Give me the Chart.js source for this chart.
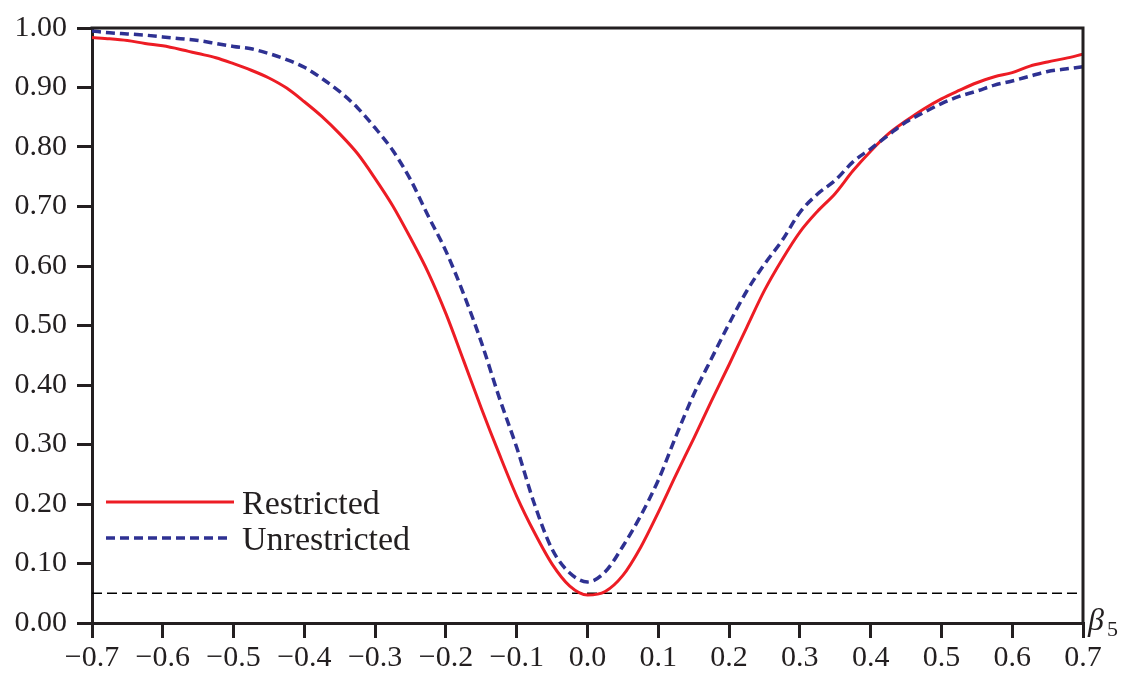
<!DOCTYPE html>
<html>
<head>
<meta charset="utf-8">
<script src="https://cdn.jsdelivr.net/npm/chart.js@4.4.1/dist/chart.umd.min.js"></script>
<style>
html,body{margin:0;padding:0;background:#fff;}
#wrap{width:1125px;height:675px;position:relative;}
canvas{display:block;}
</style>
</head>
<body>
<div id="wrap"><canvas id="c" width="1125" height="675"></canvas></div>
<script>
// ---- data ----
const beta = [-0.700,-0.675,-0.650,-0.625,-0.600,-0.575,-0.550,-0.525,-0.500,-0.475,-0.450,-0.425,-0.400,-0.375,-0.350,-0.325,-0.300,-0.275,-0.250,-0.225,-0.200,-0.175,-0.150,-0.125,-0.100,-0.075,-0.050,-0.025,0.000,0.025,0.050,0.075,0.100,0.125,0.150,0.175,0.200,0.225,0.250,0.275,0.300,0.325,0.350,0.375,0.400,0.425,0.450,0.475,0.500,0.525,0.550,0.575,0.600,0.625,0.650,0.675,0.700];
const restricted = [0.984,0.982,0.979,0.974,0.970,0.964,0.957,0.950,0.940,0.929,0.916,0.899,0.876,0.851,0.822,0.789,0.747,0.701,0.647,0.589,0.520,0.441,0.361,0.285,0.213,0.152,0.099,0.062,0.047,0.053,0.080,0.127,0.186,0.249,0.310,0.373,0.434,0.497,0.559,0.611,0.657,0.692,0.722,0.760,0.793,0.822,0.844,0.864,0.881,0.895,0.908,0.918,0.925,0.936,0.943,0.949,0.956];
const unrestricted = [0.995,0.992,0.990,0.988,0.985,0.982,0.979,0.974,0.969,0.965,0.957,0.947,0.934,0.915,0.893,0.866,0.832,0.794,0.745,0.684,0.625,0.553,0.472,0.380,0.295,0.200,0.124,0.084,0.069,0.086,0.129,0.180,0.240,0.314,0.384,0.444,0.503,0.558,0.603,0.643,0.690,0.721,0.744,0.775,0.797,0.820,0.842,0.858,0.873,0.885,0.894,0.904,0.911,0.919,0.927,0.931,0.935];
const refLevel = [0.05, 0.05];
const refX = [-0.7, 0.7];
const xTicks = [-0.7,-0.6,-0.5,-0.4,-0.3,-0.2,-0.1,0.0,0.1,0.2,0.3,0.4,0.5,0.6,0.7];
const xTickLabels = ['\u22120.7','\u22120.6','\u22120.5','\u22120.4','\u22120.3','\u22120.2','\u22120.1','0.0','0.1','0.2','0.3','0.4','0.5','0.6','0.7'];
const yTicks = [0,0.1,0.2,0.3,0.4,0.5,0.6,0.7,0.8,0.9,1.0];
const yTickLabels = ['0.00','0.10','0.20','0.30','0.40','0.50','0.60','0.70','0.80','0.90','1.00'];
const seriesNames = ['Restricted','Unrestricted'];

const RED = '#ed1c24', BLUE = '#2e3192', INK = '#231f20';
const FONT = "'Liberation Serif', 'DejaVu Serif', serif";

const pts = (xs, ys) => xs.map((x, i) => ({x: x, y: ys[i]}));

const framePlugin = {
  id: 'frame',
  afterDraw(chart) {
    const {ctx, chartArea: a} = chart;
    ctx.save();
    ctx.strokeStyle = INK;
    ctx.lineWidth = 3;
    ctx.beginPath();
    ctx.moveTo(a.left - 1.5, a.top);
    ctx.lineTo(a.right, a.top);
    ctx.lineTo(a.right, a.bottom);
    ctx.stroke();

    // legend
    const items = [
      {name: seriesNames[0], color: RED, dash: [], width: 3, y: 502, x2: 234},
      {name: seriesNames[1], color: BLUE, dash: [9, 5], width: 3.5, y: 538, x2: 232}
    ];
    items.forEach(it => {
      ctx.beginPath();
      ctx.setLineDash(it.dash);
      ctx.strokeStyle = it.color;
      ctx.lineWidth = it.width;
      ctx.moveTo(106, it.y);
      ctx.lineTo(it.x2, it.y);
      ctx.stroke();
      ctx.setLineDash([]);
      ctx.fillStyle = INK;
      ctx.font = '34px ' + FONT;
      ctx.textBaseline = 'alphabetic';
      ctx.textAlign = 'left';
      ctx.fillText(it.name, 242, it.y + 12);
    });

    // axis title beta_5
    ctx.fillStyle = INK;
    ctx.font = 'italic 32px ' + FONT;
    ctx.textAlign = 'left';
    ctx.fillText('\u03b2', 1088, 630);
    ctx.font = '22px ' + FONT;
    ctx.fillText('5', 1107, 636);
    ctx.restore();
  }
};

new Chart(document.getElementById('c'), {
  type: 'line',
  data: {
    datasets: [
      {label: seriesNames[0], data: pts(beta, restricted), borderColor: RED, borderWidth: 3,
       pointRadius: 0, cubicInterpolationMode: 'monotone', fill: false, order: 2},
      {label: seriesNames[1], data: pts(beta, unrestricted), borderColor: BLUE, borderWidth: 3.5,
       borderDash: [9, 5], pointRadius: 0, cubicInterpolationMode: 'monotone', fill: false, order: 1},
      {label: 'level', data: pts(refX, refLevel), borderColor: '#000', borderWidth: 1.5,
       borderDash: [10, 5], pointRadius: 0, fill: false, order: 3}
    ]
  },
  options: {
    responsive: false,
    animation: false,
    events: [],
    layout: {padding: {top: 25, right: 42, left: 0, bottom: 0}},
    plugins: {legend: {display: false}, tooltip: {enabled: false}},
    scales: {
      x: {
        type: 'linear', min: -0.7, max: 0.7,
        afterBuildTicks: s => { s.ticks = xTicks.map(v => ({value: v})); },
        afterFit: s => { s.height = 52; },
        ticks: {
          callback: (v, i) => xTickLabels[i],
          color: INK, font: {family: FONT, size: 30}, padding: 2,
          maxRotation: 0, autoSkip: false
        },
        grid: {drawOnChartArea: false, drawTicks: true, tickLength: 15, lineWidth: 3, color: INK},
        border: {display: true, width: 3, color: INK}
      },
      y: {
        type: 'linear', min: 0, max: 1,
        afterBuildTicks: s => { s.ticks = yTicks.map(v => ({value: v})); },
        afterFit: s => { s.width = 92; },
        ticks: {
          callback: (v, i) => yTickLabels[i],
          color: INK, font: {family: FONT, size: 30}, padding: 10, autoSkip: false
        },
        grid: {drawOnChartArea: false, drawTicks: true, tickLength: 15, lineWidth: 3, color: INK},
        border: {display: true, width: 3, color: INK}
      }
    }
  },
  plugins: [framePlugin]
});
</script>
</body>
</html>
